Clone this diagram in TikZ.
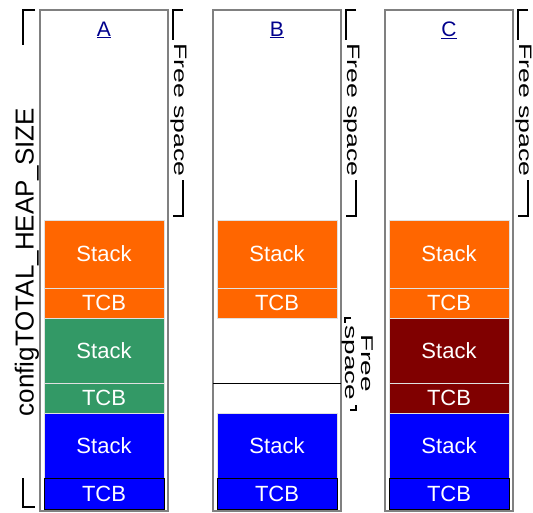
\documentclass[tikz,border=0pt]{standalone}
\usepackage{fontspec}
\setmainfont{Liberation Sans}

\definecolor{taskOrange}{RGB}{255,102,0}
\definecolor{taskGreen}{RGB}{51,153,102}
\definecolor{taskBlue}{RGB}{0,0,255}
\definecolor{taskRed}{RGB}{128,0,0}
\definecolor{headBlue}{RGB}{0,0,140}

\begin{document}
\begin{tikzpicture}[x=1pt, y=-1pt, font=\fontsize{22}{24}\selectfont,
    heapframe/.style={draw=black!50, line width=1.3pt},
    block/.style={draw=black!12, line width=0.8pt, text=white, minimum width=120pt, inner sep=0pt},
    brack/.style={line width=1.8pt},
    head/.style={text=headBlue, font=\fontsize{21}{23}\selectfont},
    freelbl/.style={rotate=-90, inner sep=0pt, font=\fontsize{18}{20}\selectfont}]

\useasboundingbox (0,0) rectangle (533,512);

% --- LEFT LABEL: total heap size ---
    \node[rotate=90, font=\fontsize{26}{28}\selectfont] (heapSize) at (27,262) {configTOTAL\_HEAP\_SIZE};
    \draw[brack] (35,10) -- (23,10) -- (23,45);
    \draw[brack] (23,478) -- (23,507) -- (35,507);

% --- COLUMN A: three tasks created ---
    \begin{scope}[shift={(40,0)}]
    \draw[heapframe] (0,10) rectangle (128,511);
    \node[head] (headA) at (64,30) {\underline{A}};

    \node[block, fill=taskOrange, minimum height=68pt] (stackA1) at (64,254) {Stack};
    \node[block, fill=taskOrange, minimum height=30pt] (tcbA1) at (64,303) {TCB};
    \node[block, fill=taskGreen, minimum height=65pt] (stackA2) at (64,350.5) {Stack};
    \node[block, fill=taskGreen, minimum height=30pt] (tcbA2) at (64,398) {TCB};
    \node[block, fill=taskBlue, minimum height=65pt] (stackA3) at (64,445.5) {Stack};
    \node[block, fill=taskBlue, minimum height=31pt, draw=black] (tcbA3) at (64,493.5) {TCB};

% free space above the tasks
    \node[freelbl] (freeA) at (139,110) {\scalebox{1.48}[1]{Free space}};
    \draw[brack] (143,10) -- (133,10) -- (133,40);
    \draw[brack] (143,180) -- (143,216) -- (133,216);
    \end{scope}

% --- COLUMN B: middle task deleted ---
    \begin{scope}[shift={(213,0)}]
    \draw[heapframe] (0,10) rectangle (128,511);
    \node[head] (headB) at (64,30) {\underline{B}};

    \node[block, fill=taskOrange, minimum height=68pt] (stackB1) at (64,254) {Stack};
    \node[block, fill=taskOrange, minimum height=30pt] (tcbB1) at (64,303) {TCB};
    \draw[line width=0.8pt] (0,383) -- (128,383); % old block boundary
    \node[block, fill=taskBlue, minimum height=65pt] (stackB3) at (64,445.5) {Stack};
    \node[block, fill=taskBlue, minimum height=31pt, draw=black] (tcbB3) at (64,493.5) {TCB};

% free space above the tasks
    \node[freelbl] (freeB) at (139,110) {\scalebox{1.48}[1]{Free space}};
    \draw[brack] (143,10) -- (133,10) -- (133,40);
    \draw[brack] (143,180) -- (143,216) -- (133,216);

% free space left by the deleted task
    \node[freelbl, align=center, font=\fontsize{17}{16}\selectfont] (freeGap) at (145,363)
      {\scalebox{1.65}[1]{Free}\\\scalebox{1.65}[1]{space}};
    \draw[brack] (138,318) -- (132,318) -- (132,323);
    \draw[brack] (137,410) -- (143,410) -- (143,405);
    \end{scope}

% --- COLUMN C: new task in the gap ---
    \begin{scope}[shift={(385,0)}]
    \draw[heapframe] (0,10) rectangle (128,511);
    \node[head] (headC) at (64,30) {\underline{C}};

    \node[block, fill=taskOrange, minimum height=68pt] (stackC1) at (64,254) {Stack};
    \node[block, fill=taskOrange, minimum height=30pt] (tcbC1) at (64,303) {TCB};
    \node[block, fill=taskRed, minimum height=65pt] (stackC2) at (64,350.5) {Stack};
    \node[block, fill=taskRed, minimum height=30pt] (tcbC2) at (64,398) {TCB};
    \node[block, fill=taskBlue, minimum height=65pt] (stackC3) at (64,445.5) {Stack};
    \node[block, fill=taskBlue, minimum height=31pt, draw=black] (tcbC3) at (64,493.5) {TCB};

% free space above the tasks
    \node[freelbl] (freeC) at (139,110) {\scalebox{1.48}[1]{Free space}};
    \draw[brack] (143,10) -- (133,10) -- (133,40);
    \draw[brack] (143,180) -- (143,216) -- (133,216);
    \end{scope}

\end{tikzpicture}
\end{document}
